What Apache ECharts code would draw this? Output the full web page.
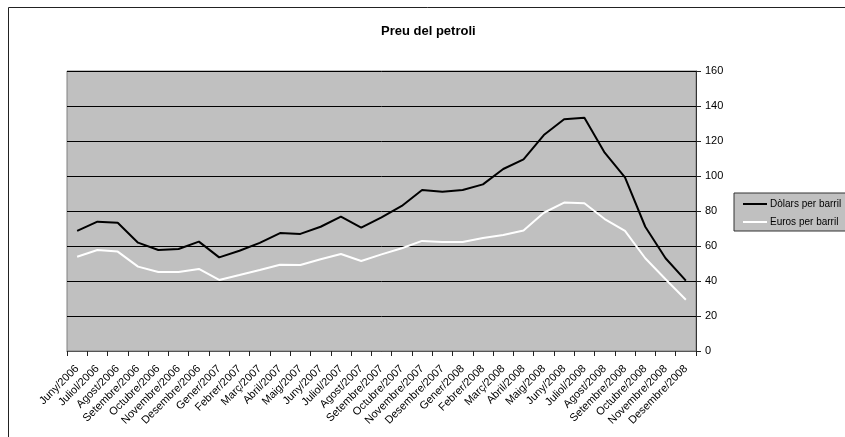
<!DOCTYPE html>
<html>
<head>
<meta charset="utf-8">
<script src="https://cdn.jsdelivr.net/npm/echarts@6/dist/echarts.min.js"></script>
<style>
html,body{margin:0;padding:0;background:#fff;}
#chart{width:845px;height:437px;}
</style>
</head>
<body>
<div id="chart"></div>
<script>
const categories = ['Juny/2006','Juliol/2006','Agost/2006','Setembre/2006','Octubre/2006','Novembre/2006','Desembre/2006',
  'Gener/2007','Febrer/2007','Març/2007','Abril/2007','Maig/2007','Juny/2007','Juliol/2007','Agost/2007','Setembre/2007','Octubre/2007','Novembre/2007','Desembre/2007',
  'Gener/2008','Febrer/2008','Març/2008','Abril/2008','Maig/2008','Juny/2008','Juliol/2008','Agost/2008','Setembre/2008','Octubre/2008','Novembre/2008','Desembre/2008'];
const dollars = [68.6, 73.9, 73.3, 61.9, 57.7, 58.3, 62.5, 53.5, 57.3, 61.8, 67.4, 66.9, 71.0, 76.8, 70.5, 76.4, 82.9, 92.0, 91.0, 92.0, 95.2, 104.0, 109.5, 123.4, 132.4, 133.3, 113.3, 99.2, 71.0, 53.0, 40.2];
const euros = [53.9, 57.7, 56.8, 48.2, 45.1, 45.1, 46.9, 40.6, 43.4, 46.3, 49.3, 49.1, 52.4, 55.4, 51.4, 55.2, 58.7, 62.9, 62.3, 62.3, 64.6, 66.3, 68.8, 79.0, 84.8, 84.4, 75.4, 68.6, 53.0, 41.0, 29.3];
const seriesNames = ['Dòlars per barril', 'Euros per barril'];
const titleText = 'Preu del petroli';

const FONT = "Arial, 'Liberation Sans', sans-serif";
const chart = echarts.init(document.getElementById('chart'), null, {renderer: 'canvas'});
chart.setOption({
  animation: false,
  backgroundColor: '#fff',
  textStyle: {fontFamily: FONT},
  title: {
    text: titleText,
    left: 376, top: 20,
    textStyle: {fontSize: 13, fontWeight: 'bold', color: '#000', fontFamily: FONT}
  },
  graphic: [{
    type: 'rect', silent: true, z: -1,
    shape: {x: 8.5, y: 7.5, width: 1000, height: 1000},
    style: {fill: 'none', stroke: '#222', lineWidth: 1}
  }],
  legend: {
    orient: 'vertical',
    left: 734, top: 193,
    padding: [5, 8, 3, 9],
    itemGap: 6,
    icon: 'rect',
    itemWidth: 24, itemHeight: 2,
    backgroundColor: '#c0c0c0',
    borderColor: '#333', borderWidth: 1,
    textStyle: {fontSize: 10, lineHeight: 12, color: '#000', fontFamily: FONT, padding: [0,0,0,-2]},
    data: seriesNames
  },
  grid: {
    left: 67, right: 149, top: 71, bottom: 86,
    containLabel: false, outerBoundsMode: 'none',
    show: true, backgroundColor: '#c0c0c0', borderColor: '#808080', borderWidth: 1
  },
  xAxis: {
    type: 'category', data: categories, boundaryGap: true,
    axisLine: {show: true, lineStyle: {color: '#555', width: 1}},
    axisTick: {show: true, interval: 0, length: 5, lineStyle: {color: '#222'}},
    axisLabel: {interval: 0, rotate: 45, fontSize: 11, color: '#000', margin: 16, fontFamily: FONT},
    splitLine: {show: false}
  },
  yAxis: {
    type: 'value', position: 'right', min: 0, max: 160, interval: 20,
    axisLine: {show: true, lineStyle: {color: '#333', width: 1}},
    axisTick: {show: true, length: 5, lineStyle: {color: '#222'}},
    axisLabel: {fontSize: 11, color: '#000', margin: 9, fontFamily: FONT},
    splitLine: {show: true, lineStyle: {color: '#000', width: 1}}
  },
  series: [
    {name: seriesNames[0], type: 'line', data: dollars, symbol: 'none', showSymbol: false,
     lineStyle: {color: '#000', width: 2}, itemStyle: {color: '#000'}},
    {name: seriesNames[1], type: 'line', data: euros, symbol: 'none', showSymbol: false,
     lineStyle: {color: '#fff', width: 2}, itemStyle: {color: '#fff'}}
  ]
});
</script>
</body>
</html>
